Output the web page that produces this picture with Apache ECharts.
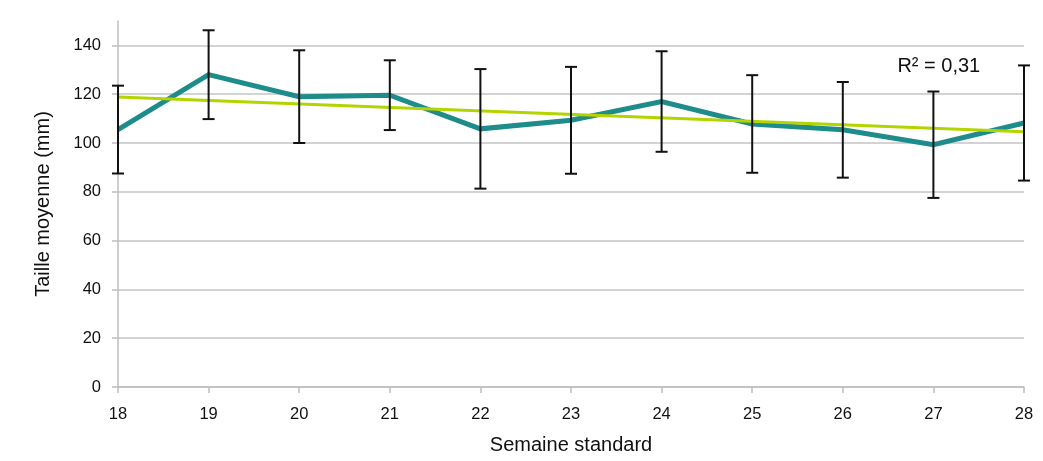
<!DOCTYPE html>
<html>
<head>
<meta charset="utf-8">
<script src="https://cdn.jsdelivr.net/npm/echarts@6/dist/echarts.min.js"></script>
<style>
html,body{margin:0;padding:0;background:#fff;}
#chart{width:1043px;height:461px;}
</style>
</head>
<body>
<div id="chart"></div>
<script>
const weeks = [18, 19, 20, 21, 22, 23, 24, 25, 26, 27, 28];
const meanSize = [105.5, 128, 119, 119.6, 105.8, 109.3, 117, 107.8, 105.4, 99.3, 108.2];
const errSize = [18, 18.2, 19, 14.3, 24.5, 21.9, 20.6, 20, 19.6, 21.8, 23.6];
const trendWeeks = [18, 28];
const trendValues = [118.9, 104.6];
const yTicks = [0, 20, 40, 60, 80, 100, 120, 140];
const r2Label = 'R² = 0,31';
const r2Pos = [27.06, 131.3];

const FONT = '"Liberation Sans", Arial, sans-serif';
const chart = echarts.init(document.getElementById('chart'), null, {renderer: 'canvas'});

const lineData = weeks.map((w, i) => [w, meanSize[i]]);
const errData = weeks.map((w, i) => [w, meanSize[i] - errSize[i], meanSize[i] + errSize[i]]);
const trendData = trendWeeks.map((w, i) => [w, trendValues[i]]);

chart.setOption({
  animation: false,
  backgroundColor: '#ffffff',
  grid: {left: 118, right: 19, top: 21, bottom: 74, containLabel: false},
  xAxis: {
    type: 'value', min: 18, max: 28, interval: 1,
    name: 'Semaine standard', nameLocation: 'middle', nameGap: 48,
    nameTextStyle: {fontFamily: FONT, fontSize: 20, color: '#111'},
    axisLine: {show: true, lineStyle: {color: '#bfbfbf', width: 1.5}},
    axisTick: {show: true, inside: false, length: 6, lineStyle: {color: '#bfbfbf', width: 1.5}},
    axisLabel: {fontFamily: FONT, fontSize: 16.5, color: '#111', margin: 19},
    splitLine: {show: false}
  },
  yAxis: {
    type: 'value', min: 0, max: 150, interval: 20,
    name: 'Taille moyenne (mm)', nameLocation: 'middle', nameGap: 65, nameRotate: 90,
    nameTextStyle: {fontFamily: FONT, fontSize: 20, color: '#111'},
    axisLine: {show: true, lineStyle: {color: '#bfbfbf', width: 1.5}},
    axisTick: {show: true, length: 6, lineStyle: {color: '#bfbfbf', width: 1.5}, customValues: yTicks},
    axisLabel: {fontFamily: FONT, fontSize: 16.5, color: '#111', margin: 17, customValues: yTicks},
    splitLine: {show: true, lineStyle: {color: '#c4c4c4', width: 1.5}}
  },
  series: [
    {
      name: 'trend', type: 'line', data: trendData, symbol: 'none', z: 3,
      lineStyle: {color: '#b4d400', width: 3},
      markPoint: {
        symbol: 'circle', symbolSize: 1,
        itemStyle: {color: 'rgba(0,0,0,0)'},
        data: [{coord: r2Pos, value: r2Label}],
        label: {show: true, formatter: r2Label, fontFamily: FONT, fontSize: 20, color: '#111', position: 'inside'}
      }
    },
    {
      name: 'mean', type: 'line', data: lineData, symbol: 'none', z: 2,
      lineStyle: {color: '#1e8c8a', width: 5, join: 'miter'}
    },
    {
      name: 'err', type: 'custom', z: 4, data: errData,
      renderItem: function (params, api) {
        const x = api.value(0);
        const lo = api.coord([x, api.value(1)]);
        const hi = api.coord([x, api.value(2)]);
        const hw = 6;
        const style = {stroke: '#111', lineWidth: 2, fill: null};
        return {
          type: 'group',
          children: [
            {type: 'line', shape: {x1: lo[0], y1: lo[1], x2: hi[0], y2: hi[1]}, style: style},
            {type: 'line', shape: {x1: lo[0] - hw, y1: lo[1], x2: lo[0] + hw, y2: lo[1]}, style: style},
            {type: 'line', shape: {x1: hi[0] - hw, y1: hi[1], x2: hi[0] + hw, y2: hi[1]}, style: style}
          ]
        };
      }
    }
  ]
});
</script>
</body>
</html>
